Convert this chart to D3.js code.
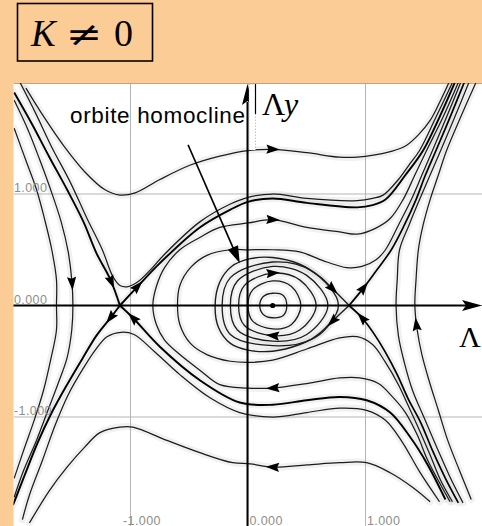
<!DOCTYPE html>
<html>
<head>
<meta charset="utf-8">
<script src="https://cdn.jsdelivr.net/npm/d3@7"></script>
<style>
  html, body { margin: 0; padding: 0; background: #fccc96; }
  svg { display: block; }
</style>
</head>
<body>
<svg id="chart" width="482" height="526"></svg>
<script>
// ---- axis ticks -------------------------------------------------------
const gridTicks = [-1, 0, 1];
const tickLabels = ["-1.000", "0.000", "1.000"];

// ---- trajectories in the (Λx, Λy) plane, one array per orbit ----------
// orbits above the upper separatrices
const orbitTopOuter = [[-1.89,1.95],[-1.73,1.68],[-1.56,1.42],[-1.39,1.20],[-1.22,1.04],[-1.09,0.99],[-0.96,1.01],[-0.75,1.13],[-0.49,1.26],[-0.24,1.34],[0,1.39],[0.21,1.40],[0.50,1.37],[0.78,1.33],[0.93,1.33],[1.08,1.35],[1.21,1.38],[1.34,1.43],[1.45,1.53],[1.55,1.66],[1.63,1.82],[1.71,2.00]];
const orbitTopInner = [[-1.94,2.00],[-1.81,1.73],[-1.67,1.42],[-1.51,1.10],[-1.37,0.78],[-1.24,0.50],[-1.15,0.26],[-1.09,0.18],[-1.02,0.17],[-0.94,0.21],[-0.83,0.32],[-0.71,0.46],[-0.41,0.75],[-0.15,0.91],[0,0.97],[0.21,1.00],[0.50,0.96],[0.93,0.94],[1.06,0.96],[1.15,0.99],[1.28,1.13],[1.37,1.26],[1.46,1.39],[1.60,1.69],[1.74,2.00]];
// orbits below the lower separatrices
const orbitBottomOuter = [[-1.86,-1.95],[-1.69,-1.66],[-1.54,-1.45],[-1.39,-1.27],[-1.26,-1.14],[-1.09,-1.09],[-0.98,-1.09],[-0.69,-1.21],[-0.41,-1.32],[-0.13,-1.41],[0.02,-1.42],[0.21,-1.45],[0.50,-1.43],[0.78,-1.41],[1.01,-1.41],[1.21,-1.50],[1.40,-1.63],[1.55,-1.76]];
const orbitBottomInner = [[-1.92,-1.92],[-1.86,-1.70],[-1.75,-1.39],[-1.64,-1.07],[-1.53,-0.80],[-1.40,-0.56],[-1.30,-0.40],[-1.20,-0.28],[-1.08,-0.24],[-0.97,-0.26],[-0.79,-0.42],[-0.58,-0.62],[-0.32,-0.83],[-0.07,-0.96],[0.21,-1.00],[0.50,-0.96],[0.78,-0.92],[1.01,-0.94],[1.17,-1.03],[1.31,-1.22],[1.46,-1.49],[1.63,-1.76]];
// orbits left of the left saddle
const orbitLeftOuter = [[-1.99,1.59],[-1.89,1.30],[-1.80,1.04],[-1.73,0.77],[-1.67,0.50],[-1.63,0.23],[-1.63,0],[-1.63,-0.22],[-1.68,-0.49],[-1.74,-0.76],[-1.82,-1.03],[-1.91,-1.30],[-1.99,-1.55]];
const orbitLeftInner = [[-1.99,1.84],[-1.87,1.57],[-1.77,1.30],[-1.68,1.04],[-1.59,0.75],[-1.53,0.48],[-1.50,0.23],[-1.49,0],[-1.50,-0.22],[-1.54,-0.47],[-1.62,-0.71],[-1.71,-0.96],[-1.80,-1.21],[-1.91,-1.48],[-1.99,-1.72]];
// orbits wrapping around the homoclinic loop
const orbitWrapOuter = [[1.72,-1.76],[1.63,-1.59],[1.53,-1.39],[1.44,-1.16],[1.34,-0.96],[1.23,-0.82],[1.11,-0.70],[0.95,-0.65],[0.78,-0.65],[0.50,-0.70],[0.21,-0.74],[0,-0.74],[-0.24,-0.71],[-0.41,-0.58],[-0.58,-0.44],[-0.71,-0.31],[-0.78,-0.17],[-0.81,0],[-0.78,0.17],[-0.71,0.34],[-0.58,0.50],[-0.41,0.61],[-0.24,0.70],[0,0.74],[0.21,0.77],[0.50,0.70],[0.78,0.66],[0.93,0.64],[1.08,0.69],[1.21,0.78],[1.32,0.95],[1.42,1.17],[1.52,1.39],[1.66,1.69],[1.79,2.00]];
const orbitWrapInner = [[1.74,-1.76],[1.64,-1.57],[1.55,-1.34],[1.46,-1.12],[1.36,-0.89],[1.28,-0.71],[1.17,-0.51],[1.06,-0.35],[0.93,-0.28],[0.78,-0.29],[0.50,-0.39],[0.21,-0.49],[0.02,-0.51],[-0.15,-0.50],[-0.35,-0.44],[-0.49,-0.34],[-0.58,-0.17],[-0.60,0],[-0.58,0.18],[-0.49,0.34],[-0.35,0.45],[-0.15,0.50],[0,0.50],[0.21,0.50],[0.44,0.48],[0.67,0.39],[0.84,0.34],[0.97,0.35],[1.09,0.41],[1.17,0.50],[1.28,0.72],[1.39,0.95],[1.48,1.17],[1.57,1.39],[1.69,1.69],[1.81,2.00]];
// orbits right of the right saddle
const orbitRightInner = [[1.83,-1.77],[1.72,-1.54],[1.61,-1.28],[1.50,-1.01],[1.40,-0.76],[1.33,-0.51],[1.28,-0.27],[1.26,0],[1.27,0.23],[1.29,0.50],[1.37,0.72],[1.46,0.95],[1.55,1.17],[1.64,1.39],[1.76,1.69],[1.88,2.00]];
const orbitRightOuter = [[1.90,-1.74],[1.80,-1.48],[1.70,-1.21],[1.62,-0.94],[1.54,-0.67],[1.48,-0.44],[1.44,-0.22],[1.42,0],[1.43,0.23],[1.45,0.50],[1.49,0.72],[1.55,0.95],[1.62,1.17],[1.69,1.39],[1.81,1.69],[1.94,2.00]];
// separatrices of the left saddle (each starts at the saddle)
const sepLeftUpLeft = [[-1.09,0],[-1.17,0.23],[-1.29,0.47],[-1.40,0.75],[-1.54,1.04],[-1.69,1.33],[-1.84,1.63],[-1.99,1.91]];
const sepLeftUpRight = [[-1.09,0],[-0.94,0.17],[-0.75,0.38],[-0.41,0.70],[-0.15,0.86],[0,0.93],[0.21,0.96],[0.50,0.92],[0.93,0.88],[1.06,0.90],[1.17,0.95],[1.34,1.17],[1.49,1.39],[1.63,1.69],[1.76,2.00]];
const sepLeftDownLeft = [[-1.09,0],[-1.17,-0.11],[-1.29,-0.27],[-1.40,-0.46],[-1.54,-0.71],[-1.67,-0.96],[-1.79,-1.23],[-1.90,-1.52],[-2.00,-1.79]];
const sepLeftDownRight = [[-1.09,0],[-0.98,-0.11],[-0.75,-0.37],[-0.41,-0.67],[-0.07,-0.87],[0.21,-0.89],[0.50,-0.85],[0.78,-0.82],[1.01,-0.85],[1.21,-0.96],[1.38,-1.18],[1.53,-1.43],[1.68,-1.74]];
// separatrices of the right saddle
const sepRightUp = [[0.86,0],[0.97,0.14],[1.09,0.31],[1.22,0.50],[1.33,0.72],[1.43,0.95],[1.51,1.17],[1.60,1.39],[1.72,1.69],[1.84,2.00]];
const sepRightDown = [[0.86,0],[0.97,-0.11],[1.07,-0.25],[1.17,-0.42],[1.27,-0.62],[1.36,-0.83],[1.47,-1.05],[1.57,-1.30],[1.68,-1.55],[1.79,-1.77]];
// homoclinic orbit of the right saddle
const homoclinic = [[0.86,0],[0.72,0.15],[0.61,0.26],[0.44,0.37],[0.21,0.43],[0.02,0.42],[-0.14,0.35],[-0.24,0.21],[-0.28,0],[-0.25,-0.20],[-0.15,-0.34],[0,-0.40],[0.21,-0.41],[0.44,-0.35],[0.61,-0.26],[0.72,-0.14],[0.86,0]];
// closed orbits around the centre
const loop1 = [[0.10,0],[0.13,0.08],[0.21,0.11],[0.30,0.09],[0.33,0],[0.30,-0.09],[0.21,-0.11],[0.13,-0.08]];
const loop2 = [[0,0],[0.04,0.14],[0.21,0.22],[0.37,0.17],[0.45,0],[0.37,-0.17],[0.21,-0.21],[0.04,-0.14]];
const loop3 = [[-0.08,0],[-0.03,0.18],[0.21,0.29],[0.44,0.23],[0.58,0],[0.44,-0.22],[0.21,-0.27],[-0.03,-0.18]];
const loop4 = [[-0.15,0],[-0.09,0.22],[0.21,0.35],[0.50,0.27],[0.68,0],[0.50,-0.26],[0.21,-0.32],[-0.09,-0.22]];
const loop5 = [[-0.22,0],[-0.15,0.25],[0.21,0.39],[0.54,0.31],[0.77,0],[0.54,-0.30],[0.21,-0.36],[-0.15,-0.26]];
const centre = [0.21, 0];

// flow-direction arrows: [orbit, Λx, Λy, +1 along the drawn order / -1 against]
const flowArrows = [
  ["topOuter", 0.21, 1.40, 1],
  ["bottomOuter", 0.21, -1.45, -1],
  ["wrapOuter", 0.21, 0.77, 1],
  ["wrapOuter", 0.21, -0.74, 1],
  ["loop3", 0.21, 0.29, 1],
  ["loop3", 0.21, -0.27, 1],
  ["leftInner", -1.50, 0.20, 1],
  ["rightOuter", 1.43, -0.17, 1],
  ["sepLUL", -1.19, 0.20, -1],
  ["sepLUR", -0.94, 0.17, 1],
  ["sepLDL", -1.17, -0.11, 1],
  ["sepLDR", -0.98, -0.11, -1],
  ["sepRU", 0.98, 0.16, 1],
  ["sepRD", 0.97, -0.11, -1],
  ["homoclinic", 0.72, 0.15, -1],
  ["homoclinic", 0.72, -0.14, -1]
];

// annotation
const noteText = "orbite homocline";
const noteAt = [-1.515, 1.64];
const noteFrom = [-0.51, 1.44];
const noteTo = [-0.07, 0.38];

// ---- drawing ------------------------------------------------------------
const svg = d3.select("#chart");
const x = d3.scaleLinear().domain([-2, 2]).range([13, 483]);
const y = d3.scaleLinear().domain([-2, 2]).range([528.5, 82.5]);
const box = { x0: 13.5, y0: 83, x1: 482, y1: 526 };

svg.append("defs").append("clipPath").attr("id", "plotClip")
  .append("rect").attr("x", box.x0).attr("y", box.y0)
  .attr("width", box.x1 - box.x0).attr("height", box.y1 - box.y0);

svg.append("rect").attr("x", box.x0).attr("y", box.y0)
  .attr("width", box.x1 - box.x0).attr("height", box.y1 - box.y0)
  .attr("fill", "#ffffff");

const plot = svg.append("g").attr("clip-path", "url(#plotClip)");

// grid
plot.selectAll("line.vgrid").data(gridTicks).join("line").attr("class", "vgrid")
  .attr("x1", d => x(d)).attr("x2", d => x(d)).attr("y1", box.y0).attr("y2", box.y1)
  .attr("stroke", "#b5b5b5").attr("stroke-width", 1);
plot.selectAll("line.hgrid").data(gridTicks).join("line").attr("class", "hgrid")
  .attr("y1", d => y(d)).attr("y2", d => y(d)).attr("x1", box.x0).attr("x2", box.x1)
  .attr("stroke", "#b5b5b5").attr("stroke-width", 1);
plot.append("line").attr("x1", box.x0).attr("x2", box.x1)
  .attr("y1", box.y0 + 0.5).attr("y2", box.y0 + 0.5)
  .attr("stroke", "#a8a8a8").attr("stroke-width", 1);

// tick labels
const fmt = d => tickLabels[gridTicks.indexOf(d)];
const leftAxis = svg.append("g").attr("transform", `translate(${box.x0},0)`)
  .call(d3.axisLeft(y).tickValues(gridTicks).tickSize(0).tickFormat(fmt));
leftAxis.select(".domain").remove();
leftAxis.selectAll("text").attr("x", 0.5).attr("dy", "-0.2em").attr("text-anchor", "start");
const bottomAxis = svg.append("g").attr("transform", `translate(0,${box.y1})`)
  .call(d3.axisBottom(x).tickValues(gridTicks).tickSize(0).tickFormat(fmt));
bottomAxis.select(".domain").remove();
bottomAxis.selectAll("text").attr("y", -1.5).attr("dy", 0).attr("text-anchor", "start")
  .attr("x", d => d < 0 ? -8 : 1);
svg.selectAll(".tick text").attr("fill", "#8e8e8e")
  .attr("font-family", "Liberation Sans, Arial, sans-serif").attr("font-size", 12.5)
  .attr("letter-spacing", 0.4);

// orbits
const orbits = [
  { key: "topOuter", pts: orbitTopOuter, w: 1.25 },
  { key: "topInner", pts: orbitTopInner, w: 1.25 },
  { key: "bottomOuter", pts: orbitBottomOuter, w: 1.25 },
  { key: "bottomInner", pts: orbitBottomInner, w: 1.25 },
  { key: "leftOuter", pts: orbitLeftOuter, w: 1.25 },
  { key: "leftInner", pts: orbitLeftInner, w: 1.25 },
  { key: "wrapOuter", pts: orbitWrapOuter, w: 1.25 },
  { key: "wrapInner", pts: orbitWrapInner, w: 1.25 },
  { key: "rightInner", pts: orbitRightInner, w: 1.25 },
  { key: "rightOuter", pts: orbitRightOuter, w: 1.25 },
  { key: "homoclinic", pts: homoclinic, w: 1.4 },
  { key: "sepLUL", pts: sepLeftUpLeft, w: 1.9 },
  { key: "sepLUR", pts: sepLeftUpRight, w: 1.9 },
  { key: "sepLDL", pts: sepLeftDownLeft, w: 1.9 },
  { key: "sepLDR", pts: sepLeftDownRight, w: 1.9 },
  { key: "sepRU", pts: sepRightUp, w: 1.7 },
  { key: "sepRD", pts: sepRightDown, w: 1.7 },
  { key: "loop1", pts: loop1, w: 1.3, closed: true },
  { key: "loop2", pts: loop2, w: 1.3, closed: true },
  { key: "loop3", pts: loop3, w: 1.3, closed: true },
  { key: "loop4", pts: loop4, w: 1.3, closed: true },
  { key: "loop5", pts: loop5, w: 1.3, closed: true }
];
const openLine = d3.line().x(d => x(d[0])).y(d => y(d[1])).curve(d3.curveCatmullRom.alpha(0.5));
const closedLine = d3.line().x(d => x(d[0])).y(d => y(d[1])).curve(d3.curveCatmullRomClosed.alpha(0.5));
const pathOf = o => (o.closed ? closedLine : openLine)(o.pts);

// soft grey halo that the plotting program left along each curve
plot.append("g").selectAll("path").data(orbits).join("path")
  .attr("d", pathOf).attr("fill", "none")
  .attr("stroke", "#b8b8b8").attr("stroke-width", 7).attr("stroke-opacity", 0.2)
  .attr("stroke-linecap", "round");

const curveNodes = new Map();
plot.append("g").selectAll("path").data(orbits).join("path")
  .attr("d", pathOf).attr("fill", "none")
  .attr("stroke", d => d.w > 1.5 ? "#000" : "#1c1c1c")
  .attr("stroke-width", d => d.w)
  .attr("stroke-linejoin", "round")
  .each(function (d) { curveNodes.set(d.key, this); });

// centre point
plot.append("circle").attr("cx", x(centre[0])).attr("cy", y(centre[1])).attr("r", 2.6).attr("fill", "#000");

// flow arrows placed on the drawn curves
const headShape = "M7,0 L-6.5,-4.6 L-4.5,0 L-6.5,4.6 Z";
flowArrows.forEach(([key, ax, ay, dir]) => {
  const node = curveNodes.get(key);
  const len = node.getTotalLength();
  const tx = x(ax), ty = y(ay);
  let best = 0, bestD = Infinity;
  for (let s = 0; s <= len; s += 0.5) {
    const p = node.getPointAtLength(s);
    const dd = (p.x - tx) ** 2 + (p.y - ty) ** 2;
    if (dd < bestD) { bestD = dd; best = s; }
  }
  const p = node.getPointAtLength(best);
  const a = node.getPointAtLength(Math.max(0, best - 3));
  const b = node.getPointAtLength(Math.min(len, best + 3));
  let ang = Math.atan2(b.y - a.y, b.x - a.x) * 180 / Math.PI;
  if (dir < 0) ang += 180;
  plot.append("path").attr("d", headShape)
    .attr("transform", `translate(${p.x},${p.y}) rotate(${ang})`)
    .attr("fill", "#000");
});

// coordinate axes through the origin
const axisG = svg.append("g");
const ox = x(0) - 0.5, oy = y(0);
axisG.append("line").attr("x1", box.x0).attr("x2", 466).attr("y1", oy).attr("y2", oy)
  .attr("stroke", "#000").attr("stroke-width", 2);
axisG.append("path").attr("d", `M482,${oy} L462,${oy - 5.5} L466,${oy} L462,${oy + 5.5} Z`).attr("fill", "#000");
axisG.append("line").attr("x1", ox).attr("x2", ox).attr("y1", box.y1).attr("y2", 102)
  .attr("stroke", "#000").attr("stroke-width", 2);
axisG.append("path").attr("d", `M${ox},84 L${ox - 5.5},105 L${ox},101 L${ox + 5.5},105 Z`).attr("fill", "#000");

// small label box beside the vertical axis
axisG.append("rect").attr("x", ox + 1.5).attr("y", 84).attr("width", 6.5).attr("height", 66)
  .attr("fill", "#fff").attr("stroke", "#9a9a9a").attr("stroke-width", 0.6).attr("stroke-dasharray", "1.5 1.5");
axisG.append("line").attr("x1", ox + 8).attr("x2", ox + 8).attr("y1", 84).attr("y2", 114)
  .attr("stroke", "#000").attr("stroke-width", 1.2);

// axis names
const serif = "Liberation Serif, Times New Roman, serif";
svg.append("text").attr("x", 262).attr("y", 115).attr("font-family", serif)
  .attr("font-size", 32).attr("fill", "#000").text("Λ");
svg.append("text").attr("x", 284).attr("y", 115).attr("font-family", serif)
  .attr("font-style", "italic").attr("font-size", 32).attr("fill", "#000").text("y");
svg.append("text").attr("x", 459).attr("y", 347).attr("font-family", serif)
  .attr("font-size", 30).attr("fill", "#000").text("Λ");

// annotation of the homoclinic orbit
svg.append("text").attr("x", x(noteAt[0])).attr("y", y(noteAt[1]))
  .attr("font-family", "Liberation Sans, Arial, sans-serif").attr("font-size", 22.5)
  .attr("textLength", 175).attr("lengthAdjust", "spacing")
  .attr("fill", "#000").text(noteText);
{
  const x1 = x(noteFrom[0]), y1 = y(noteFrom[1]), x2 = x(noteTo[0]), y2 = y(noteTo[1]);
  const ang = Math.atan2(y2 - y1, x2 - x1) * 180 / Math.PI;
  const L = Math.hypot(x2 - x1, y2 - y1);
  svg.append("line").attr("x1", x1).attr("y1", y1)
    .attr("x2", x1 + (x2 - x1) * (L - 12) / L).attr("y2", y1 + (y2 - y1) * (L - 12) / L)
    .attr("stroke", "#000").attr("stroke-width", 1.6);
  svg.append("path").attr("d", "M0,0 L-17,-5.5 L-17,5.5 Z")
    .attr("transform", `translate(${x2},${y2}) rotate(${ang})`).attr("fill", "#000");
}

// title box
const title = svg.append("g");
title.append("rect").attr("x", 17.5).attr("y", 3.5).attr("width", 135).attr("height", 57.5)
  .attr("fill", "none").attr("stroke", "#000").attr("stroke-width", 1.6);
title.append("text").attr("x", 31).attr("y", 45.5).attr("font-family", serif)
  .attr("font-style", "italic").attr("font-size", 37).attr("fill", "#000").text("K");
title.append("text").attr("transform", "translate(66,46) scale(1.45,1.15)")
  .attr("font-family", "DejaVu Serif, serif")
  .attr("font-size", 30).attr("fill", "#000").text("≠");
title.append("text").attr("x", 114).attr("y", 45.5).attr("font-family", serif)
  .attr("font-size", 38).attr("fill", "#000").text("0");
</script>
</body>
</html>
